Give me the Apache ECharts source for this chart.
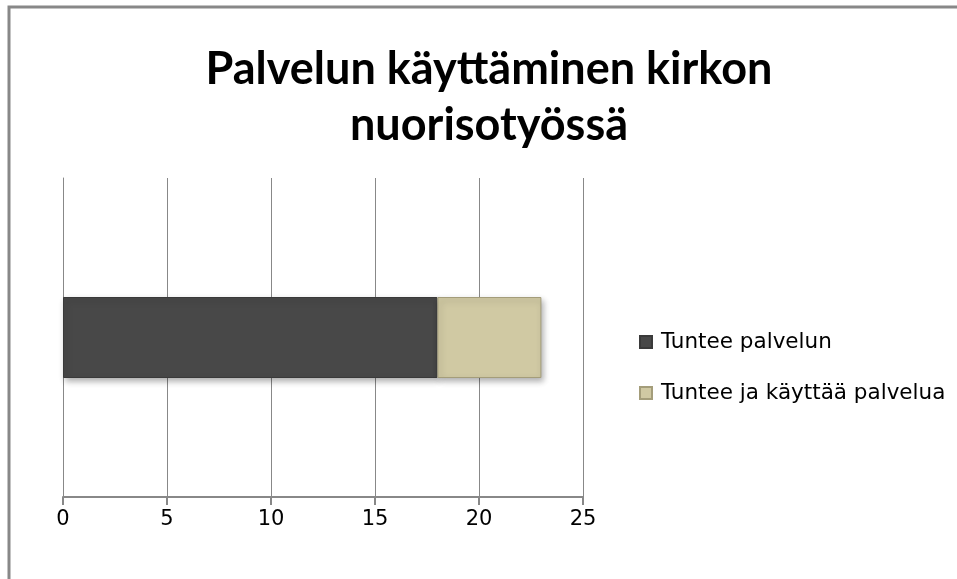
<!DOCTYPE html>
<html>
<head>
<meta charset="utf-8">
<script src="https://cdn.jsdelivr.net/npm/echarts@6/dist/echarts.min.js"></script>
<style>html,body{margin:0;padding:0;background:#fff}#c{width:957px;height:579px}</style>
</head>
<body>
<div id="c"></div>
<script>
const titleText = 'Palvelun käyttäminen kirkon\nnuorisotyössä';
const categories = [''];
const seriesNames = ['Tuntee palvelun', 'Tuntee ja käyttää palvelua'];
const valuesKnows = [18];
const valuesUses = [5];
const xTicks = [0, 5, 10, 15, 20, 25];

const chart = echarts.init(document.getElementById('c'));
const titleFont = 'Lato, "Open Sans", sans-serif';
const font = '"DejaVu Sans", sans-serif';
chart.setOption({
  backgroundColor: '#fff',
  animation: false,
  graphic: [{
    type: 'rect', shape: {x: 9, y: 7, width: 1200, height: 1200},
    style: {fill: 'none', stroke: '#888', lineWidth: 3}, z: 100
  }],
  title: {
    text: titleText, left: 484, textAlign: 'center', top: 36,
    textStyle: {fontFamily: titleFont, fontWeight: 'bold', fontSize: 45, lineHeight: 56, color: '#000'}
  },
  legend: {
    orient: 'vertical', left: 634, top: 326, itemGap: 29,
    itemWidth: 12, itemHeight: 12, icon: 'rect',
    textStyle: {fontFamily: font, fontSize: 21.5, color: '#000', padding: [0,0,0,4]},
    data: seriesNames
  },
  grid: {left: 63, right: 374, top: 178, bottom: 82, containLabel: false},
  xAxis: {
    type: 'value', min: xTicks[0], max: xTicks[xTicks.length-1], interval: 5,
    axisLine: {show: true, lineStyle: {color: '#888', width: 2}},
    axisTick: {show: true, length: 8, lineStyle: {color: '#888', width: 2}},
    splitLine: {show: true, lineStyle: {color: '#888', width: 1}},
    axisLabel: {fontFamily: font, fontSize: 21, color: '#000', margin: 12}
  },
  yAxis: {
    type: 'category', data: categories,
    axisLine: {show: true, lineStyle: {color: '#888', width: 1}},
    axisTick: {show: false}, axisLabel: {show: false}
  },
  series: [{
    name: seriesNames[0], type: 'bar', stack: 's', data: valuesKnows, barWidth: 81,
    itemStyle: {color: '#484848', borderColor: '#3a3a3a', borderWidth: 1,
      shadowColor: 'rgba(0,0,0,0.3)', shadowBlur: 6, shadowOffsetX: 2, shadowOffsetY: 3}
  }, {
    name: seriesNames[1], type: 'bar', stack: 's', data: valuesUses, barWidth: 81,
    itemStyle: {color: '#d0c9a3', borderColor: '#a49d7a', borderWidth: 1,
      shadowColor: 'rgba(0,0,0,0.3)', shadowBlur: 6, shadowOffsetX: 2, shadowOffsetY: 3}
  }]
});
</script>
</body>
</html>
